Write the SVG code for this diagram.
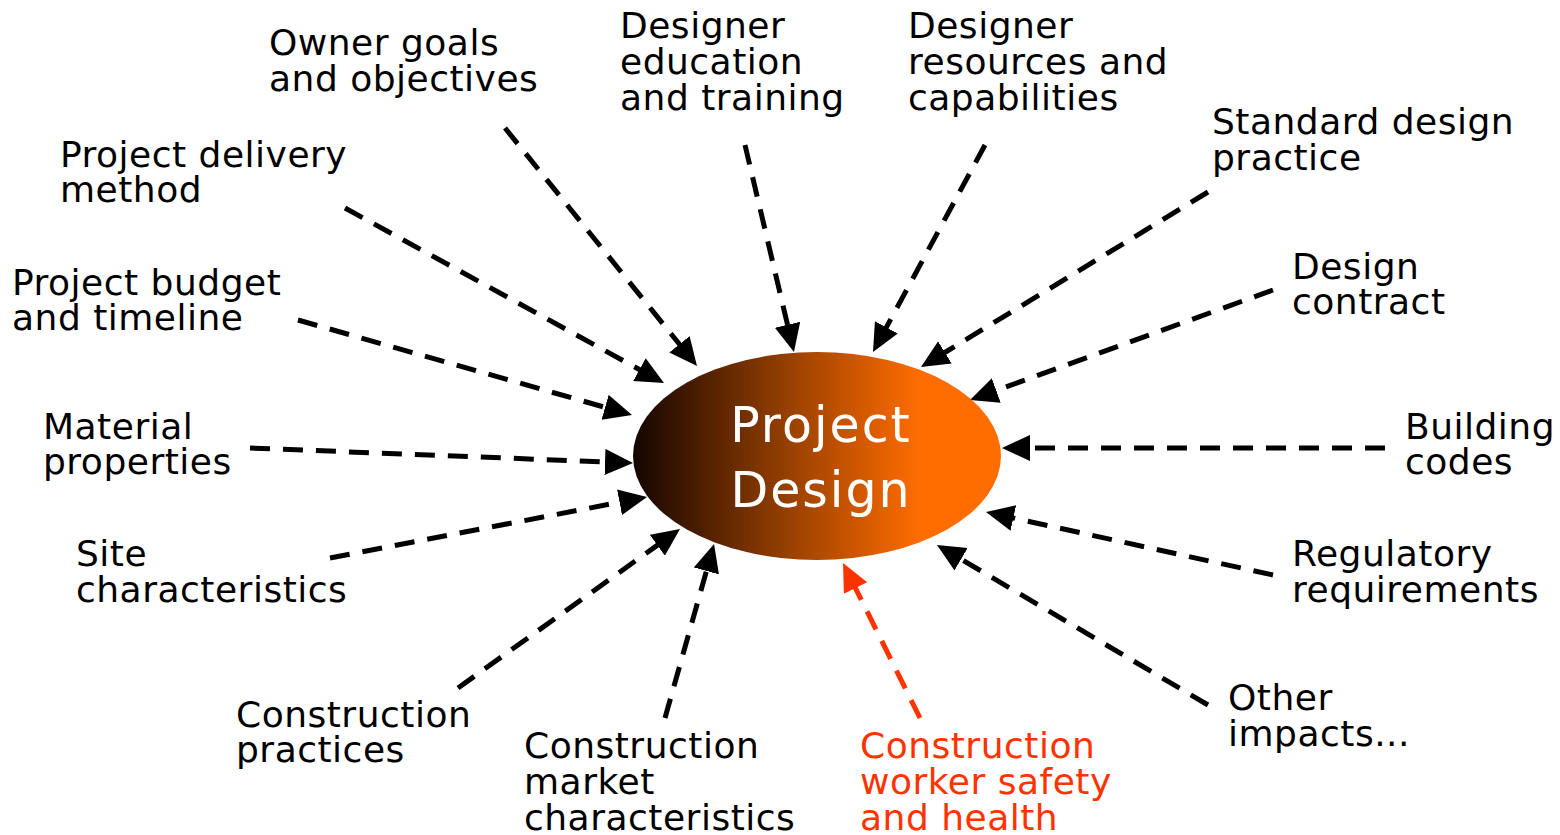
<svg xmlns="http://www.w3.org/2000/svg" width="1560" height="835" viewBox="0 0 1560 835">
<style>
.lbl{font-family:"DejaVu Sans","Verdana",sans-serif;font-size:36px;letter-spacing:0.5px;fill:#000}
.red{fill:#ff3300}
.ttl{font-family:"DejaVu Sans","Verdana",sans-serif;font-size:49px;letter-spacing:2px;fill:#fff;text-anchor:middle}
.ln{stroke:#000;stroke-width:5;stroke-dasharray:20 13;fill:none}
.lnr{stroke:#ff3300;stroke-width:5;stroke-dasharray:20 13;fill:none}
</style>
<defs>
<linearGradient id="g" x1="0" y1="0" x2="1" y2="0">
<stop offset="0" stop-color="#140500"/>
<stop offset="0.45" stop-color="#a04400"/>
<stop offset="0.78" stop-color="#ff6c00"/>
<stop offset="1" stop-color="#ff6c00"/>
</linearGradient>
<marker id="ah" markerUnits="userSpaceOnUse" markerWidth="30" markerHeight="28" refX="2" refY="13" orient="auto">
<path d="M0,0 L28,13 L0,26 z" fill="#000"/>
</marker>
<marker id="ahr" markerUnits="userSpaceOnUse" markerWidth="30" markerHeight="28" refX="2" refY="13" orient="auto">
<path d="M0,0 L28,13 L0,26 z" fill="#ff3300"/>
</marker>
</defs>
<rect width="1560" height="835" fill="#fff"/>
<g id="connectors">
<line class="ln" x1="505" y1="128" x2="680.7" y2="345.8" marker-end="url(#ah)"/>
<line class="ln" x1="345" y1="208" x2="641.2" y2="370.5" marker-end="url(#ah)"/>
<line class="ln" x1="298" y1="320" x2="607" y2="407.9" marker-end="url(#ah)"/>
<line class="ln" x1="250" y1="448" x2="607" y2="462" marker-end="url(#ah)"/>
<line class="ln" x1="330" y1="558" x2="621.5" y2="501.9" marker-end="url(#ah)"/>
<line class="ln" x1="458" y1="688" x2="658.9" y2="544.1" marker-end="url(#ah)"/>
<line class="ln" x1="665" y1="718" x2="707" y2="569" marker-end="url(#ah)"/>
<line class="lnr" x1="920" y1="718" x2="854.6" y2="586.3" marker-end="url(#ahr)"/>
<line class="ln" x1="1208" y1="705" x2="959.4" y2="558.2" marker-end="url(#ah)"/>
<line class="ln" x1="1273" y1="575" x2="1011.4" y2="517.6" marker-end="url(#ah)"/>
<line class="ln" x1="1385" y1="448" x2="1028" y2="448" marker-end="url(#ah)"/>
<line class="ln" x1="1273" y1="290" x2="994.4" y2="391.1" marker-end="url(#ah)"/>
<line class="ln" x1="1208" y1="192" x2="943.2" y2="353.5" marker-end="url(#ah)"/>
<line class="ln" x1="985" y1="145" x2="885.4" y2="329.1" marker-end="url(#ah)"/>
<line class="ln" x1="745" y1="145" x2="788" y2="326.7" marker-end="url(#ah)"/>
</g>
<g id="center">
<ellipse cx="817" cy="456" rx="184" ry="104" fill="url(#g)"/>
<text class="ttl" x="821" y="442">Project</text>
<text class="ttl" x="821" y="507">Design</text>
</g>
<g id="owner"><text class="lbl" x="269" y="55">Owner goals</text><text class="lbl" x="269" y="91">and objectives</text></g>
<g id="delivery"><text class="lbl" x="60" y="167">Project delivery</text><text class="lbl" x="60" y="202">method</text></g>
<g id="budget"><text class="lbl" x="12" y="295">Project budget</text><text class="lbl" x="12" y="330">and timeline</text></g>
<g id="material"><text class="lbl" x="43" y="439">Material</text><text class="lbl" x="43" y="474">properties</text></g>
<g id="site"><text class="lbl" x="76" y="566">Site</text><text class="lbl" x="76" y="602">characteristics</text></g>
<g id="practices"><text class="lbl" x="236" y="727">Construction</text><text class="lbl" x="236" y="762">practices</text></g>
<g id="market"><text class="lbl" x="524" y="758">Construction</text><text class="lbl" x="524" y="794">market</text><text class="lbl" x="524" y="830">characteristics</text></g>
<g id="safety"><text class="lbl red" x="860" y="758">Construction</text><text class="lbl red" x="860" y="794">worker safety</text><text class="lbl red" x="860" y="830">and health</text></g>
<g id="other"><text class="lbl" x="1228" y="710">Other</text><text class="lbl" x="1228" y="746">impacts...</text></g>
<g id="regulatory"><text class="lbl" x="1292" y="566">Regulatory</text><text class="lbl" x="1292" y="602">requirements</text></g>
<g id="codes"><text class="lbl" x="1405" y="439">Building</text><text class="lbl" x="1405" y="474">codes</text></g>
<g id="contract"><text class="lbl" x="1292" y="279">Design</text><text class="lbl" x="1292" y="314">contract</text></g>
<g id="standard"><text class="lbl" x="1212" y="134">Standard design</text><text class="lbl" x="1212" y="170">practice</text></g>
<g id="resources"><text class="lbl" x="908" y="38">Designer</text><text class="lbl" x="908" y="74">resources and</text><text class="lbl" x="908" y="110">capabilities</text></g>
<g id="education"><text class="lbl" x="620" y="38">Designer</text><text class="lbl" x="620" y="74">education</text><text class="lbl" x="620" y="110">and training</text></g>
</svg>
